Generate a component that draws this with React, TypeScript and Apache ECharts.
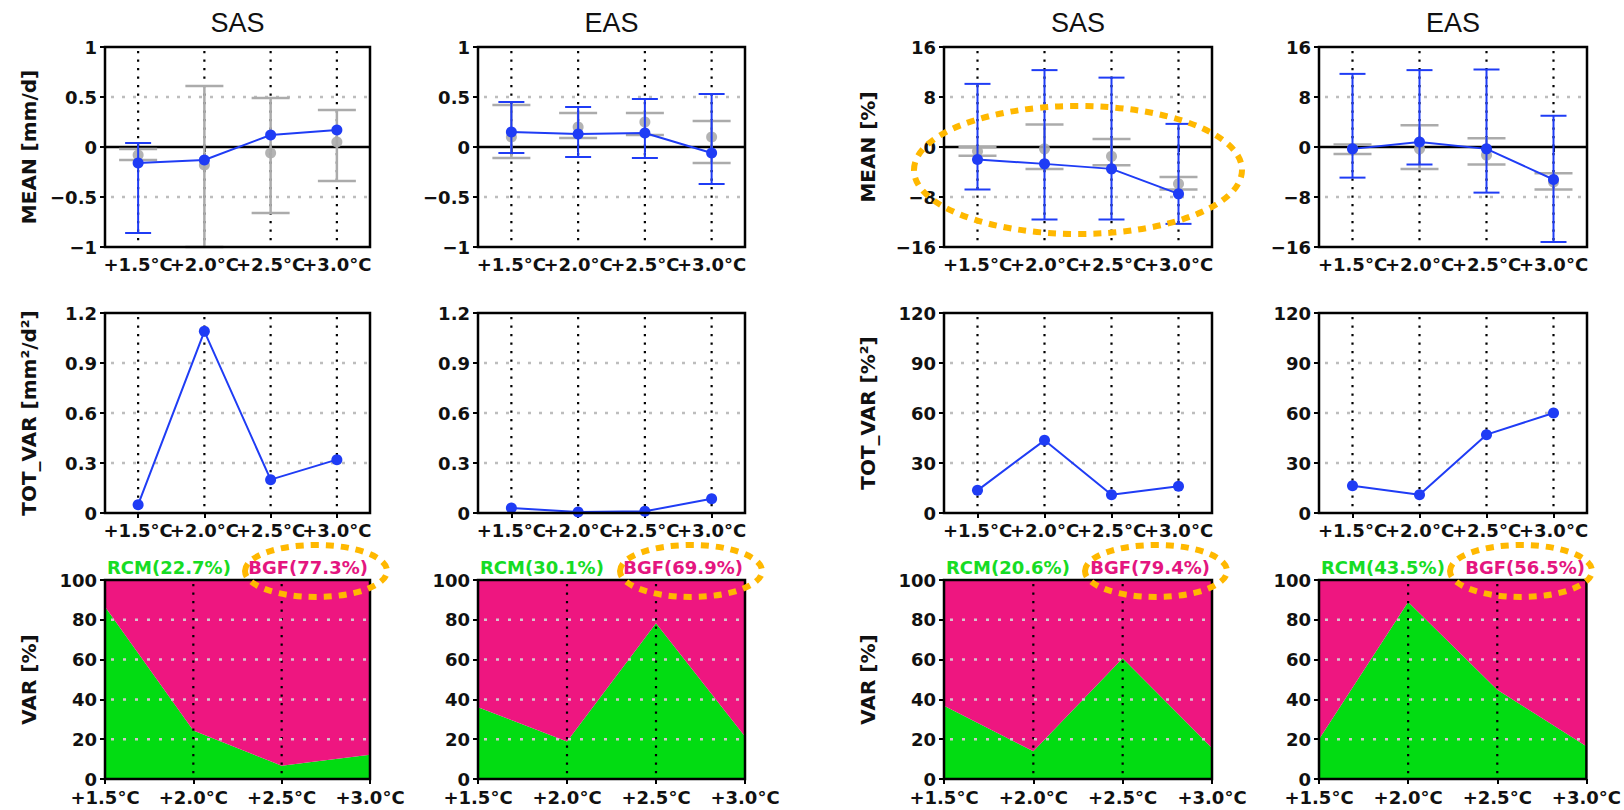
import React, { useEffect, useRef } from 'react';
import * as echarts from 'echarts';

// ---------- data ----------
const categories = ['+1.5°C', '+2.0°C', '+2.5°C', '+3.0°C'];
const regionTitles = ['SAS', 'EAS', 'SAS', 'EAS'];

// Row 1: MEAN (blue = RCM ensemble with spread, gray = driving ensemble with spread)
const meanSasMm = [-0.16, -0.13, 0.12, 0.17];
const meanSasMmLo = [-0.86, null, null, null];
const meanSasMmHi = [0.04, null, null, null];
const drvSasMm = [-0.08, -0.18, -0.06, 0.05];
const drvSasMmLo = [-0.13, -1.0, -0.66, -0.34];
const drvSasMmHi = [-0.02, 0.61, 0.49, 0.37];

const meanEasMm = [0.15, 0.13, 0.14, -0.06];
const meanEasMmLo = [-0.06, -0.1, -0.11, -0.37];
const meanEasMmHi = [0.45, 0.4, 0.48, 0.53];
const drvEasMm = [0.1, 0.2, 0.25, 0.1];
const drvEasMmLo = [-0.11, 0.09, 0.12, -0.16];
const drvEasMmHi = [0.42, 0.34, 0.34, 0.26];

const meanSasPct = [-2.0, -2.7, -3.5, -7.5];
const meanSasPctLo = [-6.8, -11.6, -11.6, -12.3];
const meanSasPctHi = [10.1, 12.3, 11.1, 3.7];
const drvSasPct = [-0.7, -0.3, -1.5, -5.9];
const drvSasPctLo = [-1.4, -3.5, -2.9, -6.8];
const drvSasPctHi = [0.0, 3.6, 1.3, -4.8];

const meanEasPct = [-0.3, 0.8, -0.3, -5.2];
const meanEasPctLo = [-4.9, -2.8, -7.3, -15.2];
const meanEasPctHi = [11.7, 12.3, 12.4, 5.0];
const drvEasPct = [-0.3, -0.3, -1.3, -5.6];
const drvEasPctLo = [-1.1, -3.5, -2.8, -6.8];
const drvEasPctHi = [0.4, 3.5, 1.4, -4.2];

// Row 2: TOT_VAR
const totVarSasMm = [0.05, 1.09, 0.2, 0.32];
const totVarEasMm = [0.03, 0.006, 0.01, 0.086];
const totVarSasPct = [13.6, 43.6, 11.0, 16.0];
const totVarEasPct = [16.4, 11.0, 47.0, 60.0];

// Row 3: VAR share (RCM part, BGF = remainder)
const rcmShareSasMm = [86.6, 24.4, 6.7, 12.2];
const rcmShareEasMm = [36.1, 18.9, 78.3, 21.4];
const rcmShareSasPct = [36.8, 13.9, 60.7, 15.6];
const rcmShareEasPct = [20.0, 89.0, 44.8, 16.4];
const rcmTotalPct = [22.7, 30.1, 20.6, 43.5];
const bgfTotalPct = [77.3, 69.9, 79.4, 56.5];

// Axis tick settings
const meanAxisMm = { min: -1, max: 1, interval: 0.5 };
const meanAxisPct = { min: -16, max: 16, interval: 8 };
const totAxisMm = { min: 0, max: 1.2, interval: 0.3 };
const totAxisPct = { min: 0, max: 120, interval: 30 };
const varAxis = { min: 0, max: 100, interval: 20 };

const yNamesMm = ['MEAN [mm/d]', 'TOT_VAR [mm²/d²]', 'VAR [%]'];
const yNamesPct = ['MEAN [%]', 'TOT_VAR [%²]', 'VAR [%]'];

// ---------- layout & style ----------
const FONT = 'DejaVu Sans';
const COL_LEFT = [105, 478, 944, 1319];
const COL_WIDTH = [265, 267, 268, 268];
const ROW_TOP = [47, 313, 580];
const ROW_HEIGHT = [200, 200, 199];

const BLUE = '#1f3cf5';
const GRAY = '#ababab';
const GREEN = '#02dc12';
const PINK = '#ee1680';
const ORANGE = '#ffb800';

const fmt = (v: number) => String(Number(v.toFixed(2))).replace('-', '−');

function vlineSeries(idx: number, cats: number[], z: number) {
  return {
    type: 'custom',
    xAxisIndex: idx,
    yAxisIndex: idx,
    silent: true,
    z,
    data: cats.map((c) => [c, 0]),
    renderItem: (params: any, api: any) => {
      const cs = params.coordSys;
      const x = api.coord([api.value(0), 0])[0];
      return {
        type: 'line',
        shape: { x1: x, y1: cs.y + 4, x2: x, y2: cs.y + cs.height - 2 },
        style: { stroke: '#000', lineWidth: 2.2, lineDash: [2.2, 6.3] },
      };
    },
  };
}

function hlineSeries(idx: number, vals: number[], z: number, color: string, dash: number[] | null, width: number) {
  return {
    type: 'custom',
    xAxisIndex: idx,
    yAxisIndex: idx,
    silent: true,
    z,
    data: vals.map((v) => [0, v]),
    renderItem: (params: any, api: any) => {
      const cs = params.coordSys;
      const y = api.coord([0, api.value(1)])[1];
      const style: any = { stroke: color, lineWidth: width };
      if (dash) style.lineDash = dash;
      return {
        type: 'line',
        shape: { x1: cs.x + (dash ? 6 : 0), y1: y, x2: cs.x + cs.width, y2: y },
        style,
      };
    },
  };
}

function errorSeries(idx: number, lo: (number | null)[], hi: (number | null)[], color: string, cap: number, width: number, z: number) {
  const data: number[][] = [];
  lo.forEach((l, i) => {
    const h = hi[i];
    if (l !== null && h !== null) data.push([i, l, h]);
  });
  return {
    type: 'custom',
    xAxisIndex: idx,
    yAxisIndex: idx,
    silent: true,
    z,
    data,
    encode: { x: 0, y: [1, 2] },
    renderItem: (params: any, api: any) => {
      const x = api.value(0);
      const pl = api.coord([x, api.value(1)]);
      const ph = api.coord([x, api.value(2)]);
      const w = cap / 2;
      const style = { stroke: color, lineWidth: width };
      return {
        type: 'group',
        children: [
          { type: 'line', shape: { x1: pl[0], y1: pl[1], x2: ph[0], y2: ph[1] }, style },
          { type: 'line', shape: { x1: pl[0] - w, y1: pl[1], x2: pl[0] + w, y2: pl[1] }, style },
          { type: 'line', shape: { x1: ph[0] - w, y1: ph[1], x2: ph[0] + w, y2: ph[1] }, style },
        ],
      };
    },
  };
}

function buildOption() {
  const grid: any[] = [];
  const xAxis: any[] = [];
  const yAxis: any[] = [];
  const series: any[] = [];
  const graphic: any[] = [];

  const meanSets = [
    { m: meanSasMm, lo: meanSasMmLo, hi: meanSasMmHi, d: drvSasMm, dlo: drvSasMmLo, dhi: drvSasMmHi, ax: meanAxisMm },
    { m: meanEasMm, lo: meanEasMmLo, hi: meanEasMmHi, d: drvEasMm, dlo: drvEasMmLo, dhi: drvEasMmHi, ax: meanAxisMm },
    { m: meanSasPct, lo: meanSasPctLo, hi: meanSasPctHi, d: drvSasPct, dlo: drvSasPctLo, dhi: drvSasPctHi, ax: meanAxisPct },
    { m: meanEasPct, lo: meanEasPctLo, hi: meanEasPctHi, d: drvEasPct, dlo: drvEasPctLo, dhi: drvEasPctHi, ax: meanAxisPct },
  ];
  const totSets = [
    { v: totVarSasMm, ax: totAxisMm },
    { v: totVarEasMm, ax: totAxisMm },
    { v: totVarSasPct, ax: totAxisPct },
    { v: totVarEasPct, ax: totAxisPct },
  ];
  const varSets = [rcmShareSasMm, rcmShareEasMm, rcmShareSasPct, rcmShareEasPct];

  const labelStyle = { color: '#111', fontFamily: FONT, fontWeight: 'bold', fontSize: 18 };
  const tickStyle = { color: '#000', width: 2 };

  for (let r = 0; r < 3; r++) {
    for (let c = 0; c < 4; c++) {
      const idx = r * 4 + c;
      const ax = r === 0 ? meanSets[c].ax : r === 1 ? totSets[c].ax : varAxis;
      grid.push({
        left: COL_LEFT[c],
        top: ROW_TOP[r],
        width: COL_WIDTH[c],
        height: ROW_HEIGHT[r],
        show: true,
        borderColor: '#000',
        borderWidth: 2.5,
        backgroundColor: 'transparent',
        z: 10,
      });
      xAxis.push({
        gridIndex: idx,
        type: 'category',
        data: categories,
        boundaryGap: r < 2,
        axisLine: { show: false },
        axisTick: { show: true, alignWithLabel: true, length: 5, lineStyle: tickStyle },
        axisLabel: { ...labelStyle, interval: 0, margin: r < 2 ? 8 : 9 },
        splitLine: { show: false },
      });
      const y: any = {
        gridIndex: idx,
        type: 'value',
        min: ax.min,
        max: ax.max,
        interval: ax.interval,
        axisLine: { show: false },
        axisTick: { show: true, length: 5, lineStyle: tickStyle },
        axisLabel: { ...labelStyle, margin: 8, formatter: (v: number) => fmt(v) },
        splitLine: { show: false },
      };
      if (c % 2 === 0) {
        y.name = (c === 0 ? yNamesMm : yNamesPct)[r];
        y.nameLocation = 'middle';
        y.nameRotate = 90;
        y.nameGap = 66;
        y.nameTextStyle = { color: '#111', fontFamily: FONT, fontWeight: 'bold', fontSize: 20 };
      }
      yAxis.push(y);

      if (r === 0) {
        const s = meanSets[c];
        series.push(vlineSeries(idx, [0, 1, 2, 3], 3));
        series.push(hlineSeries(idx, [-ax.interval, ax.interval], 3, '#bdbdbd', [3, 8], 2.5));
        series.push(hlineSeries(idx, [0], 3, '#000', null, 2.5));
        series.push(errorSeries(idx, s.dlo, s.dhi, GRAY, 38, 2.5, 4));
        series.push({
          type: 'scatter',
          xAxisIndex: idx,
          yAxisIndex: idx,
          data: s.d,
          symbolSize: 11,
          itemStyle: { color: GRAY, opacity: 0.9 },
          silent: true,
          z: 4,
        });
        series.push(errorSeries(idx, s.lo, s.hi, BLUE, 26, 2, 5));
        series.push({
          type: 'line',
          xAxisIndex: idx,
          yAxisIndex: idx,
          data: s.m,
          symbol: 'circle',
          symbolSize: 11,
          lineStyle: { color: BLUE, width: 2 },
          itemStyle: { color: BLUE },
          silent: true,
          z: 6,
        });
      } else if (r === 1) {
        series.push(vlineSeries(idx, [0, 1, 2, 3], 3));
        series.push(hlineSeries(idx, [ax.interval, ax.interval * 2, ax.interval * 3], 3, '#bdbdbd', [3, 8], 2.5));
        series.push({
          type: 'line',
          xAxisIndex: idx,
          yAxisIndex: idx,
          data: totSets[c].v,
          symbol: 'circle',
          symbolSize: 11,
          lineStyle: { color: BLUE, width: 2 },
          itemStyle: { color: BLUE },
          silent: true,
          z: 6,
        });
      } else {
        const rcm = varSets[c];
        series.push({
          type: 'line',
          xAxisIndex: idx,
          yAxisIndex: idx,
          data: rcm,
          stack: 'var' + idx,
          symbol: 'none',
          lineStyle: { width: 0 },
          areaStyle: { color: GREEN, opacity: 1 },
          silent: true,
          z: 2,
        });
        series.push({
          type: 'line',
          xAxisIndex: idx,
          yAxisIndex: idx,
          data: rcm.map((v) => +(100 - v).toFixed(1)),
          stack: 'var' + idx,
          symbol: 'none',
          lineStyle: { width: 0 },
          areaStyle: { color: PINK, opacity: 1 },
          silent: true,
          z: 2,
        });
        series.push(vlineSeries(idx, [1, 2], 5));
        series.push(hlineSeries(idx, [20, 40, 60, 80], 5, '#d6c3cd', [3, 9], 2.5));

        graphic.push({
          type: 'text',
          x: COL_LEFT[c] + 2,
          y: 567,
          style: {
            text: `RCM(${rcmTotalPct[c].toFixed(1)}%)`,
            fill: '#16dc24',
            font: `bold 18px "${FONT}"`,
            textAlign: 'left',
            textVerticalAlign: 'middle',
          },
        });
        graphic.push({
          type: 'text',
          x: COL_LEFT[c] + COL_WIDTH[c] - 2,
          y: 567,
          style: {
            text: `BGF(${bgfTotalPct[c].toFixed(1)}%)`,
            fill: '#e4167f',
            font: `bold 18px "${FONT}"`,
            textAlign: 'right',
            textVerticalAlign: 'middle',
          },
        });
      }
    }
  }

  // column titles
  for (let c = 0; c < 4; c++) {
    graphic.push({
      type: 'text',
      x: COL_LEFT[c] + COL_WIDTH[c] / 2,
      y: 23,
      style: {
        text: regionTitles[c],
        fill: '#111',
        font: 'normal 27px "Liberation Sans"',
        textAlign: 'center',
        textVerticalAlign: 'middle',
      },
    });
  }

  // highlight ellipses (annotations)
  const ellipseStyle = { fill: 'none', stroke: ORANGE, lineWidth: 6, lineDash: [8, 7] };
  graphic.push({ type: 'ellipse', z: 100, shape: { cx: 1078, cy: 170, rx: 164, ry: 64 }, style: ellipseStyle });
  const smallCx = [316, 691, 1156, 1521];
  smallCx.forEach((cx) => {
    graphic.push({ type: 'ellipse', z: 100, shape: { cx, cy: 571, rx: 71, ry: 26 }, style: ellipseStyle });
  });

  return {
    animation: false,
    backgroundColor: '#fff',
    grid,
    xAxis,
    yAxis,
    series,
    graphic,
  };
}

export default function App() {
  const ref = useRef<HTMLDivElement>(null);
  useEffect(() => {
    if (!ref.current) return;
    const chart = echarts.init(ref.current, null, { renderer: 'svg' });
    chart.setOption(buildOption() as any);
    return () => chart.dispose();
  }, []);
  return (
    <div
      ref={ref}
      style={{ position: 'fixed', left: 0, top: 0, width: 1624, height: 810, background: '#fff' }}
    />
  );
}
